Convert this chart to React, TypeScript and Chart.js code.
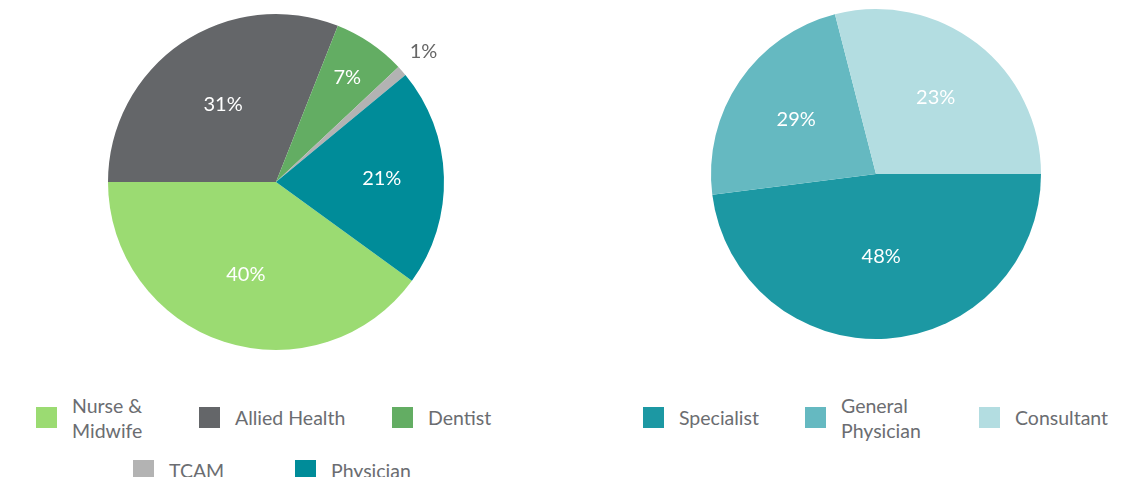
import React, { useEffect, useRef } from "react";
import { Chart, registerables } from "chart.js";

Chart.register(...registerables);

const leftCategories = ["Nurse & Midwife", "Allied Health", "Dentist", "TCAM", "Physician"];
const leftShares = [40, 31, 7, 1, 21];
const leftLabels = ["40%", "31%", "7%", "1%", "21%"];
const leftColors = ["#9bdb72", "#646669", "#63ad63", "#b3b3b3", "#008c99"];

const rightCategories = ["Specialist", "General Physician", "Consultant"];
const rightShares = [48, 23, 29];
const rightLabels = ["48%", "29%", "23%"];
const rightColors = ["#1c98a3", "#65b9c1", "#b3dde1"];

const FONT = "Lato, 'Open Sans', sans-serif";

const sliceLabelPlugin = {
  id: "sliceLabels",
  afterDatasetsDraw(chart: any, _args: any, opts: any) {
    const ctx = chart.ctx;
    const meta = chart.getDatasetMeta(0);
    const texts: string[] = opts.texts || [];
    const factors: number[] = opts.factors || [];
    const colors: string[] = opts.colors || [];
    ctx.save();
    ctx.font = `${opts.size || 18}px ${FONT}`;
    ctx.textAlign = "center";
    ctx.textBaseline = "middle";
    meta.data.forEach((arc: any, i: number) => {
      const p = arc.getProps(["x", "y", "startAngle", "endAngle", "outerRadius"], true);
      const mid = (p.startAngle + p.endAngle) / 2;
      const r = p.outerRadius * (factors[i] ?? 0.6);
      ctx.fillStyle = colors[i] || "#ffffff";
      ctx.fillText(texts[i] ?? "", p.x + Math.cos(mid) * r, p.y + Math.sin(mid) * r);
    });
    ctx.restore();
  },
};

function PieChart(props: {
  shares: number[];
  categories: string[];
  colors: string[];
  texts: string[];
  factors: number[];
  textColors: string[];
  rotation: number;
  padding: { left: number; right: number; top: number; bottom: number };
}) {
  const ref = useRef<HTMLCanvasElement | null>(null);
  useEffect(() => {
    if (!ref.current) return;
    const chart = new Chart(ref.current, {
      type: "pie",
      data: {
        labels: props.categories,
        datasets: [
          {
            data: props.shares,
            backgroundColor: props.colors,
            borderWidth: 0,
          },
        ],
      },
      options: {
        animation: false,
        responsive: false,
        rotation: props.rotation,
        layout: { padding: props.padding },
        plugins: {
          legend: { display: false },
          tooltip: { enabled: false },
          sliceLabels: {
            texts: props.texts,
            factors: props.factors,
            colors: props.textColors,
            size: 20,
          },
        } as any,
      },
      plugins: [sliceLabelPlugin],
    });
    return () => chart.destroy();
  }, []);
  return <canvas ref={ref} width={560} height={380} style={{ display: "block" }} />;
}

function LegendItem(props: { color: string; text: string; left: number; top: number }) {
  return (
    <div
      style={{
        position: "absolute",
        left: props.left,
        top: props.top,
        display: "flex",
        alignItems: "center",
        height: 21,
      }}
    >
      <div style={{ width: 21, height: 21, background: props.color, flex: "0 0 auto" }} />
      <div
        style={{
          marginLeft: 15,
          maxWidth: 125,
          fontFamily: FONT,
          fontSize: 19.5,
          lineHeight: "25px",
          color: "#6b6d71",
          whiteSpace: "normal",
        }}
      >
        {props.text}
      </div>
    </div>
  );
}

export default function App() {
  // legend layout (page-relative, minus body margin)
  const leftLegendPos = [
    [28, 399],
    [191, 399],
    [384, 399],
    [125, 452],
    [287, 452],
  ];
  const rightLegendPos = [
    [635, 399],
    [797, 399],
    [971, 399],
  ];
  return (
    <div style={{ position: "relative", width: 1125, height: 469 }}>
      <div style={{ position: "absolute", left: 0, top: 0 }}>
        <PieChart
          shares={leftShares}
          categories={leftCategories}
          colors={leftColors}
          texts={leftLabels}
          factors={[0.58, 0.56, 0.755, 1.17, 0.63]}
          textColors={["#ffffff", "#ffffff", "#ffffff", "#666666", "#ffffff"]}
          rotation={126}
          padding={{ left: 100, right: 124, top: 6, bottom: 38 }}
        />
      </div>
      <div style={{ position: "absolute", left: 565, top: 0 }}>
        <PieChart
          shares={rightShares}
          categories={rightCategories}
          colors={rightColors}
          texts={rightLabels}
          factors={[0.5, 0.585, 0.59]}
          textColors={["#ffffff", "#ffffff", "#ffffff"]}
          rotation={90}
          padding={{ left: 138, right: 92, top: 1, bottom: 49 }}
        />
      </div>
      {leftCategories.map((c, i) => (
        <LegendItem key={c} color={leftColors[i]} text={c} left={leftLegendPos[i][0]} top={leftLegendPos[i][1]} />
      ))}
      {rightCategories.map((c, i) => (
        <LegendItem key={c} color={rightColors[i]} text={c} left={rightLegendPos[i][0]} top={rightLegendPos[i][1]} />
      ))}
    </div>
  );
}
